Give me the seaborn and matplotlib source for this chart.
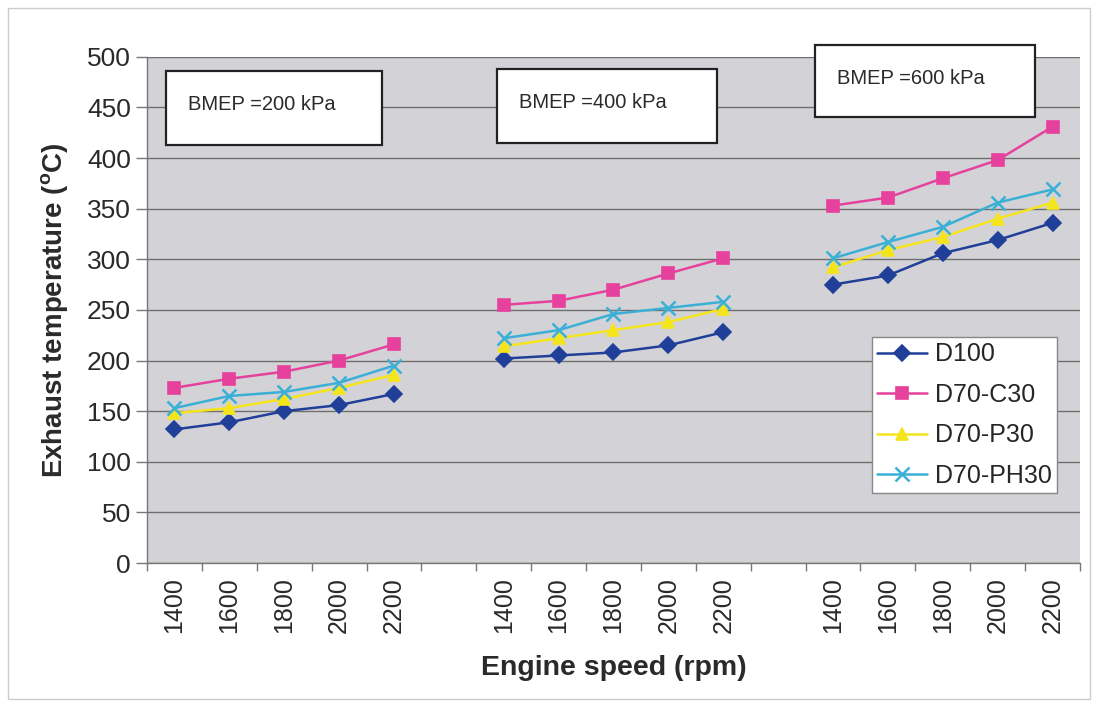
import matplotlib
matplotlib.use("Agg")
import matplotlib.pyplot as plt
import seaborn as sns
import numpy as np
import pandas as pd
from matplotlib.lines import Line2D
from matplotlib.patches import Rectangle

# ---- data ----
speeds = [1400, 1600, 1800, 2000, 2200]
bmep_groups = ["BMEP =200 kPa", "BMEP =400 kPa", "BMEP =600 kPa"]
fuels = ["D100", "D70-C30", "D70-P30", "D70-PH30"]

d100 = [[132, 139, 150, 156, 167], [202, 205, 208, 215, 228], [275, 284, 306, 319, 336]]
d70_c30 = [[173, 182, 189, 200, 216], [255, 259, 270, 286, 301], [353, 361, 380, 398, 431]]
d70_p30 = [[148, 153, 162, 173, 186], [214, 222, 230, 238, 251], [292, 309, 322, 340, 356]]
d70_ph30 = [[153, 165, 169, 178, 195], [222, 230, 246, 252, 258], [301, 317, 332, 356, 369]]

series = {"D100": d100, "D70-C30": d70_c30, "D70-P30": d70_p30, "D70-PH30": d70_ph30}

colors = {"D100": "#203f98", "D70-C30": "#e6419c", "D70-P30": "#f4e41c", "D70-PH30": "#3bb0d6"}
markers = {"D100": "D", "D70-C30": "s", "D70-P30": "^", "D70-PH30": "x"}

rows = []
for f in fuels:
    for g, vals in enumerate(series[f]):
        for i, v in enumerate(vals):
            rows.append({"fuel": f, "group": g, "pos": g * (len(speeds) + 1) + i, "temp": v})
df = pd.DataFrame(rows)

sns.set_theme(style="white")
plt.rcParams["font.family"] = ["Liberation Sans", "DejaVu Sans"]

fig = plt.figure(figsize=(10.97, 7.05), dpi=100)
ax = fig.add_axes([0.134, 0.2014, 0.8505, 0.718])
ax.set_facecolor("#d3d3d7")

def msize(f):
    return 10 if markers[f] == "x" else 8.5

def mew(f):
    return 1.8 if markers[f] == "x" else 1.2

for f in fuels:
    for g in range(len(bmep_groups)):
        sub = df[(df.fuel == f) & (df.group == g)]
        sns.lineplot(data=sub, x="pos", y="temp", ax=ax, color=colors[f],
                     marker=markers[f], markersize=msize(f),
                     markeredgecolor=colors[f], markeredgewidth=mew(f),
                     linewidth=1.8, estimator=None, legend=False)

n_cat = len(bmep_groups) * (len(speeds) + 1) - 1
ax.set_xlim(-0.5, n_cat - 0.5)
ax.set_ylim(0, 500)
ax.set_yticks(np.arange(0, 501, 50))
ax.yaxis.grid(True, color="#6e6e6e", linewidth=1.0)
ax.xaxis.grid(False)

tick_pos = [g * (len(speeds) + 1) + i for g in range(len(bmep_groups)) for i in range(len(speeds))]
ax.set_xticks(tick_pos)
ax.set_xticklabels([str(s) for _ in bmep_groups for s in speeds], rotation=90)
ax.set_xticks(np.arange(-0.5, n_cat, 1.0), minor=True)
ax.tick_params(axis="x", which="major", length=0, labelsize=18, pad=10, colors="#2a2a2a")
ax.tick_params(axis="x", which="minor", length=6, width=1, color="#777777", bottom=True)
ax.tick_params(axis="y", length=8, width=1, color="#777777", left=True, labelsize=19, colors="#2a2a2a")

for side in ["top", "right"]:
    ax.spines[side].set_visible(False)
for side in ["left", "bottom"]:
    ax.spines[side].set_color("#777777")
    ax.spines[side].set_linewidth(1.0)

ax.set_xlabel("Engine speed (rpm)", fontsize=20.5, fontweight="bold", color="#2a2a2a", labelpad=16)
ax.set_ylabel("Exhaust temperature ($\\mathregular{^o}$C)", fontsize=20, fontweight="bold",
              color="#2a2a2a", labelpad=12)

# BMEP annotation boxes (figure pixel placement)
W, H = 1097, 705
boxes = [(166, 71, 382, 145), (497, 69, 717, 143), (815, 45, 1035, 117)]
for (x0, y0, x1, y1), txt in zip(boxes, bmep_groups):
    fig.patches.append(Rectangle((x0 / W, 1 - y1 / H), (x1 - x0) / W, (y1 - y0) / H,
                                 transform=fig.transFigure, facecolor="white",
                                 edgecolor="#222222", linewidth=1.6, zorder=5))
    fig.text((x0 + 22) / W, 1 - ((y0 + y1) / 2 - 3) / H, txt, fontsize=14.5, color="#2a2a2a",
             ha="left", va="center", zorder=6)

# legend
handles = [Line2D([0], [0], color=colors[f], marker=markers[f], linewidth=1.8,
                  markersize=msize(f), markeredgewidth=mew(f))
           for f in fuels]
leg = ax.legend(handles, fuels, loc="upper left", bbox_to_anchor=((872 - 147) / 933, (563 - 337) / 506),
                fontsize=18, frameon=True, fancybox=False, edgecolor="#888888", facecolor="white",
                framealpha=1, handlelength=2.0, handletextpad=0.3, labelspacing=0.66,
                borderpad=0.22, borderaxespad=0)
leg.get_frame().set_linewidth(1.0)

# outer chart border
fig.patches.append(Rectangle((8 / W, 6 / H), (1090 - 8) / W, (697 - 6) / H, transform=fig.transFigure,
                             facecolor="none", edgecolor="#cccccc", linewidth=1.0))

fig.savefig("out.png", dpi=100)
